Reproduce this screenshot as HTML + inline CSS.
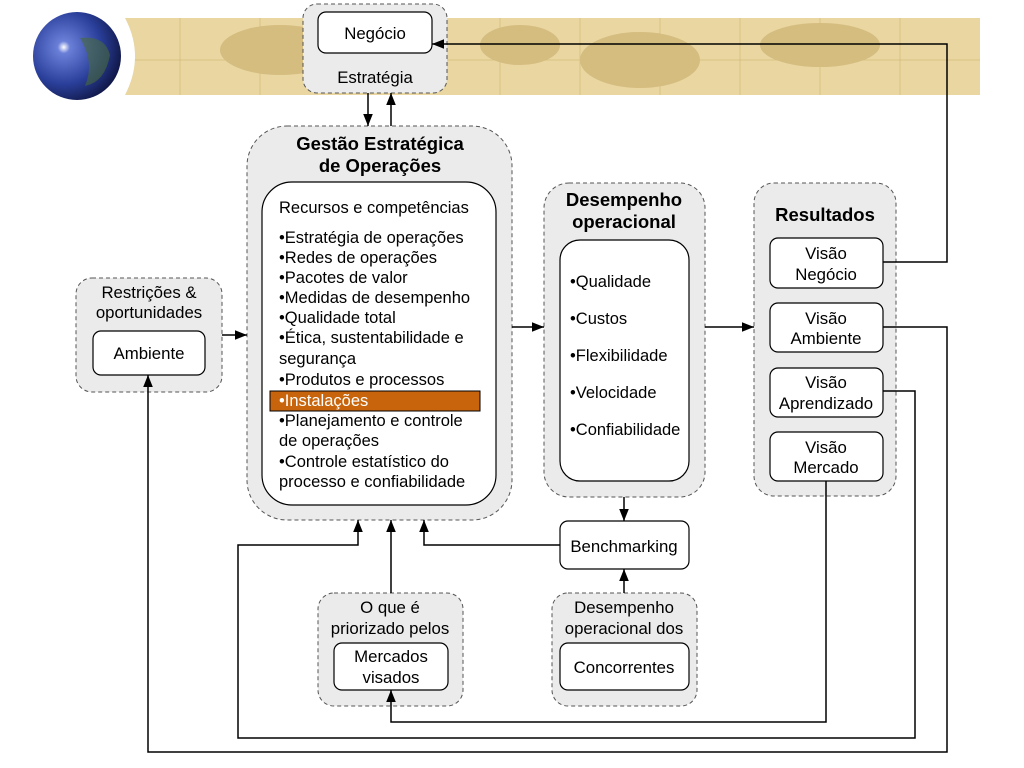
<!DOCTYPE html>
<html><head><meta charset="utf-8"><style>
html,body{margin:0;padding:0;background:#fff}
svg{display:block}
text{font-family:"Liberation Sans",sans-serif;fill:#000}
</style></head><body>
<svg width="1024" height="768" viewBox="0 0 1024 768" xmlns="http://www.w3.org/2000/svg">
<defs>
<marker id="a" viewBox="0 0 10 10" refX="10" refY="5" markerWidth="8" markerHeight="8" orient="auto"><path d="M0,1 L10,5 L0,9 z" fill="#000"/></marker>
<radialGradient id="g" cx="0.35" cy="0.4" r="0.7"><stop offset="0" stop-color="#fff"/><stop offset="0.1" stop-color="#6a7fd8"/><stop offset="0.6" stop-color="#2a3f9a"/><stop offset="1" stop-color="#0e1440"/></radialGradient>
</defs>
<rect x="120" y="18" width="860" height="77" fill="#e9d6a0"/>
<g stroke="#d9c185" stroke-width="1"><line x1="180" y1="18" x2="180" y2="95"/><line x1="260" y1="18" x2="260" y2="95"/><line x1="340" y1="18" x2="340" y2="95"/><line x1="500" y1="18" x2="500" y2="95"/><line x1="580" y1="18" x2="580" y2="95"/><line x1="660" y1="18" x2="660" y2="95"/><line x1="740" y1="18" x2="740" y2="95"/><line x1="820" y1="18" x2="820" y2="95"/><line x1="900" y1="18" x2="900" y2="95"/><line x1="120" y1="60" x2="980" y2="60"/></g>
<g fill="#d5bc7f"><ellipse cx="280" cy="50" rx="60" ry="25"/><ellipse cx="520" cy="45" rx="40" ry="20"/><ellipse cx="640" cy="60" rx="60" ry="28"/><ellipse cx="820" cy="45" rx="60" ry="22"/></g>
<path d="M100,18 L125,18 Q145,56 125,95 L100,95 z" fill="#fff"/>
<circle cx="77" cy="56" r="44" fill="url(#g)"/>
<path d="M80,38 Q105,35 110,55 Q105,82 85,86 Q95,62 80,38z" fill="#4a6a3a" opacity="0.6"/>

<g stroke="#555" stroke-dasharray="4,3" fill="#ebebeb" stroke-width="1">
<rect x="303" y="4" width="144" height="89" rx="14"/>
<rect x="247" y="126" width="265" height="394" rx="40"/>
<rect x="76" y="278" width="146" height="114" rx="16"/>
<rect x="544" y="183" width="161" height="314" rx="25"/>
<rect x="754" y="183" width="142" height="313" rx="20"/>
<rect x="318" y="593" width="145" height="113" rx="16"/>
<rect x="552" y="593" width="145" height="113" rx="16"/>
</g>
<g stroke="#000" fill="#fff" stroke-width="1.2">
<rect x="318" y="12" width="114" height="41" rx="8"/>
<rect x="262" y="182" width="234" height="323" rx="30"/>
<rect x="93" y="331" width="112" height="44" rx="8"/>
<rect x="560" y="240" width="129" height="241" rx="20"/>
<rect x="770" y="238" width="113" height="50" rx="8"/>
<rect x="770" y="303" width="113" height="49" rx="8"/>
<rect x="770" y="368" width="113" height="49" rx="8"/>
<rect x="770" y="432" width="113" height="49" rx="8"/>
<rect x="560" y="521" width="129" height="48" rx="8"/>
<rect x="334" y="643" width="114" height="47" rx="8"/>
<rect x="560" y="643" width="129" height="47" rx="8"/>
</g>
<rect x="270" y="391" width="210" height="20" fill="#c8650c" stroke="#000" stroke-width="1"/>

<g stroke="#000" stroke-width="1.5" fill="none">
<line x1="368" y1="93" x2="368" y2="126" marker-end="url(#a)"/>
<line x1="391" y1="126" x2="391" y2="93" marker-end="url(#a)"/>
<line x1="222" y1="335" x2="247" y2="335" marker-end="url(#a)"/>
<line x1="512" y1="327" x2="544" y2="327" marker-end="url(#a)"/>
<line x1="705" y1="327" x2="754" y2="327" marker-end="url(#a)"/>
<polyline points="883,262 947,262 947,44 432,44" marker-end="url(#a)"/>
<polyline points="883,327 947,327 947,752 148,752 148,375" marker-end="url(#a)"/>
<polyline points="883,391 915,391 915,738 238,738 238,545 358,545 358,520" marker-end="url(#a)"/>
<polyline points="826,481 826,722 391,722 391,690" marker-end="url(#a)"/>
<line x1="624" y1="497" x2="624" y2="521" marker-end="url(#a)"/>
<polyline points="560,545 424,545 424,520" marker-end="url(#a)"/>
<line x1="624" y1="593" x2="624" y2="569" marker-end="url(#a)"/>
<line x1="391" y1="593" x2="391" y2="520" marker-end="url(#a)"/>
</g>

<g font-size="16.8" text-anchor="middle">
<text x="375" y="39">Negócio</text>
<text x="375" y="83">Estratégia</text>
<text x="380" y="150" font-weight="bold" font-size="18.5">Gestão Estratégica</text>
<text x="380" y="172" font-weight="bold" font-size="18.5">de Operações</text>
<text x="149" y="298">Restrições &amp;</text>
<text x="149" y="318">oportunidades</text>
<text x="149" y="359">Ambiente</text>
<text x="624" y="206" font-weight="bold" font-size="18.5">Desempenho</text>
<text x="624" y="228" font-weight="bold" font-size="18.5">operacional</text>
<text x="825" y="221" font-weight="bold" font-size="18.5">Resultados</text>
<text x="826" y="259">Visão</text><text x="826" y="280">Negócio</text>
<text x="826" y="324">Visão</text><text x="826" y="344">Ambiente</text>
<text x="826" y="388">Visão</text><text x="826" y="409">Aprendizado</text>
<text x="826" y="453">Visão</text><text x="826" y="473">Mercado</text>
<text x="624" y="552">Benchmarking</text>
<text x="390" y="613">O que é</text>
<text x="390" y="634">priorizado pelos</text>
<text x="391" y="662">Mercados</text><text x="391" y="683">visados</text>
<text x="624" y="613">Desempenho</text>
<text x="624" y="634">operacional dos</text>
<text x="624" y="673">Concorrentes</text>
</g>
<g font-size="16.5">
<text x="279" y="213">Recursos e competências</text>
<text x="279" y="243">•Estratégia de operações</text>
<text x="279" y="263">•Redes de operações</text>
<text x="279" y="283">•Pacotes de valor</text>
<text x="279" y="303">•Medidas de desempenho</text>
<text x="279" y="323">•Qualidade total</text>
<text x="279" y="343">•Ética, sustentabilidade e</text>
<text x="279" y="364">segurança</text>
<text x="279" y="385">•Produtos e processos</text>
<text x="279" y="406" style="fill:#fff">•Instalações</text>
<text x="279" y="426">•Planejamento e controle</text>
<text x="279" y="446">de operações</text>
<text x="279" y="467">•Controle estatístico do</text>
<text x="279" y="487">processo e confiabilidade</text>
<text x="570" y="287">•Qualidade</text>
<text x="570" y="324">•Custos</text>
<text x="570" y="361">•Flexibilidade</text>
<text x="570" y="398">•Velocidade</text>
<text x="570" y="435">•Confiabilidade</text>
</g>
</svg>
</body></html>
